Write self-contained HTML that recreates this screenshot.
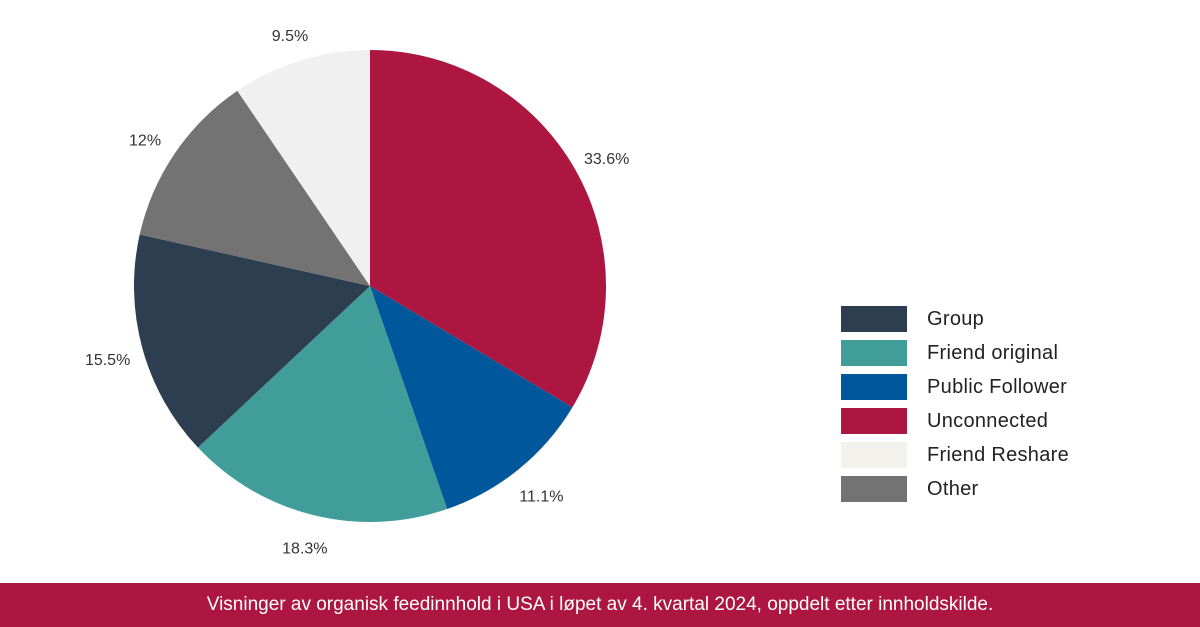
<!DOCTYPE html>
<html><head><meta charset="utf-8"><style>
body{margin:0;width:1200px;height:627px;background:#fff;font-family:"Liberation Sans",sans-serif;overflow:hidden;position:relative}
.leg{position:absolute;left:841px;display:flex;align-items:center}
.sw{width:66px;height:26px}
.lt{margin-left:20px;font-size:20px;color:#222;letter-spacing:0.3px}
#footer{position:absolute;left:0;top:583px;width:1200px;height:44px;background:#ad1640;color:#fff;font-size:19px;display:flex;align-items:center;justify-content:center}
</style></head><body>
<svg id="chart" width="1200" height="583" style="position:absolute;left:0;top:0"></svg>
<div id="legend"></div>
<div id="footer">Visninger av organisk feedinnhold i USA i løpet av 4. kvartal 2024, oppdelt etter innholdskilde.</div>
<script>
const categories=["Unconnected","Public Follower","Friend original","Group","Other","Friend Reshare"];
const values=[33.6,11.1,18.3,15.5,12,9.5];
const labels=["33.6%","11.1%","18.3%","15.5%","12%","9.5%"];
const colors=["#ad1640","#00579b","#419d9a","#2d3e50","#737373","#f0f0f0"];
const legendOrder=["Group","Friend original","Public Follower","Unconnected","Friend Reshare","Other"];
const legendColors=["#2d3e50","#419d9a","#00579b","#ad1640","#f3f1ec","#737373"];
const svg=document.getElementById('chart');const NS="http://www.w3.org/2000/svg";
const cx=370,cy=286,R=236,LR=266;
const total=values.reduce((a,b)=>a+b,0);
let a0=0;
values.forEach((v,i)=>{
 const a1=a0+v/total*2*Math.PI;
 const p=(a)=>[cx+R*Math.sin(a),cy-R*Math.cos(a)];
 const [x0,y0]=p(a0),[x1,y1]=p(a1);
 const path=document.createElementNS(NS,'path');
 path.setAttribute('d',`M${cx},${cy}L${x0},${y0}A${R},${R} 0 ${a1-a0>Math.PI?1:0} 1 ${x1},${y1}Z`);
 path.setAttribute('fill',colors[i]);
 
 
 svg.appendChild(path);
 const m=(a0+a1)/2;
 const t=document.createElementNS(NS,'text');
 t.setAttribute('x',cx+(LR+6)*Math.sin(m));t.setAttribute('y',cy-LR*Math.cos(m)+9);
 t.setAttribute('text-anchor','middle');t.setAttribute('font-size','16');t.setAttribute('fill','#333');
 t.setAttribute('font-family','Liberation Sans, sans-serif');
 t.textContent=labels[i];
 
 
 svg.appendChild(t);
 a0=a1;
});
const lg=document.getElementById('legend');
legendOrder.forEach((c,i)=>{
 const d=document.createElement('div');d.className='leg';d.style.top=(306+i*34)+'px';
 
 
 d.innerHTML='<div class="sw" style="background:'+legendColors[i]+'"></div><div class="lt">'+c+'</div>';
 lg.appendChild(d);
});
</script>
</body></html>
